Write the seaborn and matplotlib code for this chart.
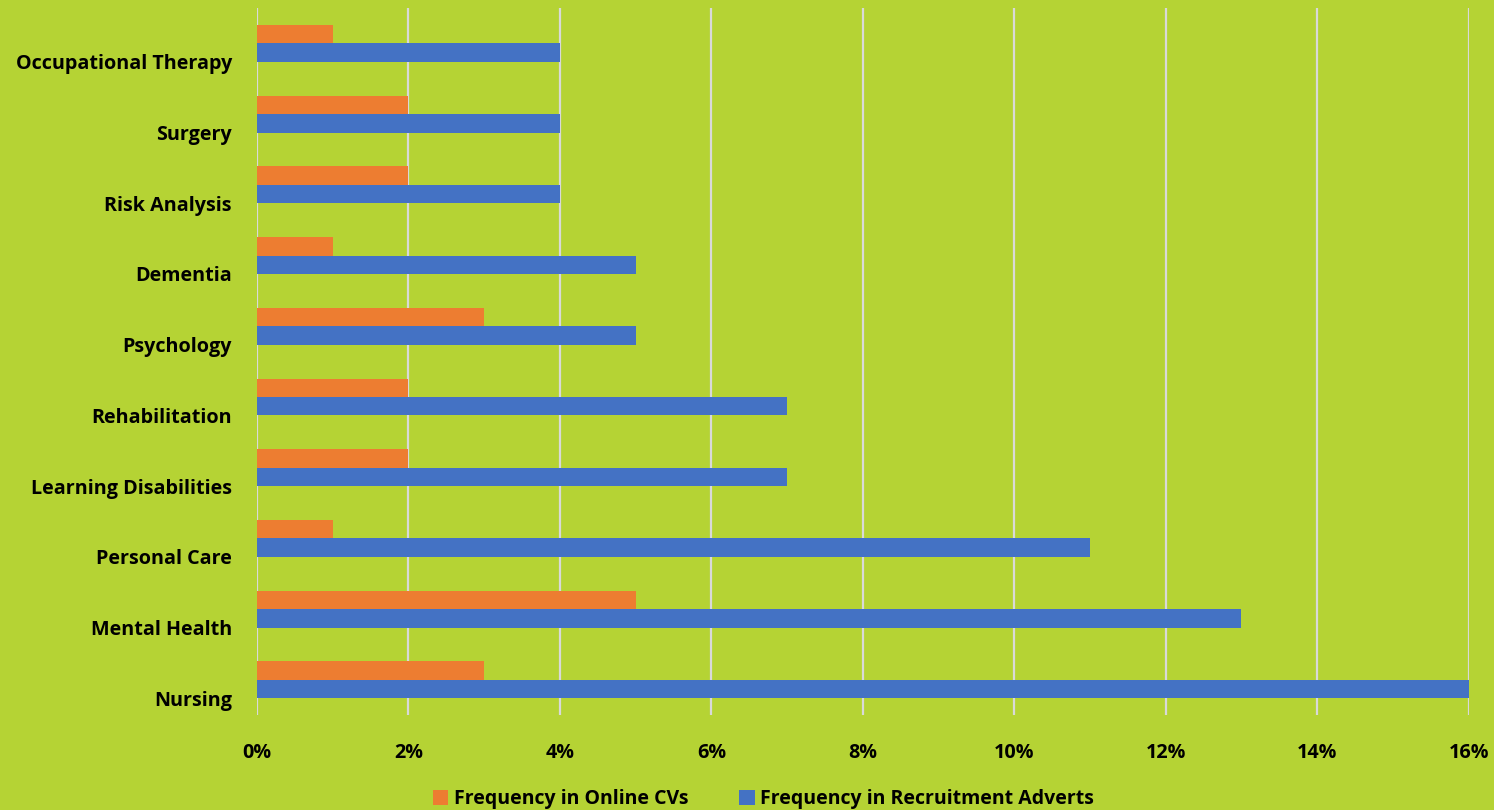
import pandas as pd
import numpy as np
import matplotlib
matplotlib.use('Agg')
import matplotlib.pyplot as plt
from matplotlib.ticker import FuncFormatter
import seaborn as sns

# skill frequencies, top-to-bottom order as shown in the chart
categories = ['Occupational Therapy', 'Surgery', 'Risk Analysis', 'Dementia', 'Psychology',
              'Rehabilitation', 'Learning Disabilities', 'Personal Care', 'Mental Health', 'Nursing']
cv_freq = [1, 2, 2, 1, 3, 2, 2, 1, 5, 3]
advert_freq = [4, 4, 4, 5, 5, 7, 7, 11, 13, 16]
series_names = ['Frequency in Online CVs', 'Frequency in Recruitment Adverts']
x_ticks = [0, 2, 4, 6, 8, 10, 12, 14, 16]

bg = '#B5D334'
colors = ['#ED7D31', '#4472C4']

df = pd.DataFrame({
    'Skill': categories * 2,
    'Value': cv_freq + advert_freq,
    'Series': [series_names[0]] * len(categories) + [series_names[1]] * len(categories),
})

sns.set_style('white')
plt.rcParams['font.family'] = ['Open Sans', 'DejaVu Sans']
plt.rcParams['text.color'] = 'black'

fig = plt.figure(figsize=(14.94, 8.10), dpi=100, facecolor=bg)
ax = fig.add_axes([0.172, 0.117, 0.811, 0.873])
ax.set_facecolor(bg)

sns.barplot(data=df, y='Skill', x='Value', hue='Series', order=categories,
            hue_order=series_names, palette=colors, width=0.52, orient='h',
            saturation=1, ax=ax, legend=True, edgecolor='none')

ax.set_xlim(0, 16)
ax.set_ylim(len(categories) - 0.5, -0.5)
ax.set_xticks(x_ticks)
ax.xaxis.set_major_formatter(FuncFormatter(lambda v, p: f'{int(v)}%'))
ax.grid(axis='x', color='#D9D9D9', linewidth=1.6)
ax.set_axisbelow(True)

# labels sit a little below the bar pair in the original
ax.set_yticks(np.arange(len(categories)) + 0.26)
ax.set_yticklabels(categories)
ax.tick_params(axis='y', length=0, pad=18, labelsize=14.2, labelcolor='black')
ax.tick_params(axis='x', length=0, pad=20, labelsize=14.2, labelcolor='black')
for lbl in ax.get_xticklabels() + ax.get_yticklabels():
    lbl.set_fontweight('bold')

ax.set_xlabel('')
ax.set_ylabel('')
for s in ax.spines.values():
    s.set_visible(False)

handles, labels = ax.get_legend_handles_labels()
ax.legend_.remove()
fig.legend(handles, labels, loc='center', bbox_to_anchor=(0.511, 0.013), ncol=2,
           frameon=False, handlelength=0.8, handleheight=0.8, handletextpad=0.3,
           columnspacing=2.6, prop={'weight': 'bold', 'size': 14.0}, labelcolor='black')

fig.savefig('out.png', dpi=100, facecolor=bg)
